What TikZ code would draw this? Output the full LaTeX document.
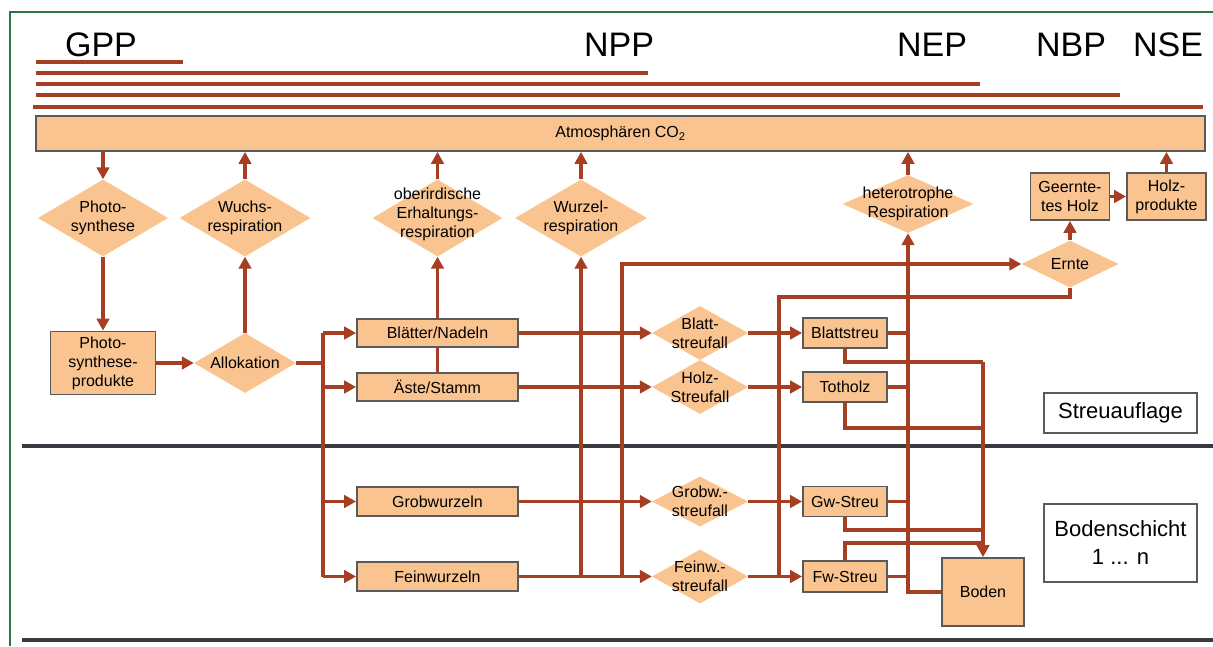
\documentclass[tikz,border=0pt]{standalone}
\usepackage{fontspec}
\setmainfont{Liberation Sans}
\usetikzlibrary{arrows.meta,shapes.geometric}
\definecolor{flow}{RGB}{166,62,36}
\definecolor{orfill}{RGB}{250,196,144}
\definecolor{boxline}{RGB}{90,90,90}
\definecolor{layer}{RGB}{55,60,66}
\definecolor{frame}{RGB}{40,120,70}

\begin{document}
\begin{tikzpicture}[x=1pt,y=-1pt,
  font=\fontsize{16}{19}\selectfont,
  box/.style={draw=boxline, line width=1.8pt, fill=orfill, inner sep=0pt, align=center},
  dia/.style={diamond, fill=orfill, inner sep=0pt},
  txt/.style={align=center, inner sep=0pt},
  conn/.style={draw=flow, line width=3.2pt},
  arr/.style={conn, -{Triangle[length=12pt,width=12.5pt]}},
  hline/.style={draw=flow, line width=4pt},
  sepline/.style={draw=layer, line width=4.5pt},
  layerbox/.style={draw=boxline, line width=1.6pt, fill=white, align=center,
    inner sep=0pt, minimum width=153pt, font=\fontsize{22}{28}\selectfont},
  head/.style={inner sep=0pt, font=\fontsize{34}{40}\selectfont}
]
\useasboundingbox (0,0) rectangle (1213,646);

% frame
\draw[frame, line width=1.5pt] (10,646) -- (10,12) -- (1213,12);

% balance terms
\node[head] (gpp) at (101,45) {GPP};
\node[head] (npp) at (619,45) {NPP};
\node[head] (nep) at (932,45) {NEP};
\node[head] (nbp) at (1071,45) {NBP};
\node[head] (nse) at (1168,45) {NSE};
\draw[hline] (36,62) -- (183,62);
\draw[hline] (36,73) -- (648,73);
\draw[hline] (36,84) -- (980,84);
\draw[hline] (36,95) -- (1120,95);
\draw[hline] (33,107) -- (1203,107);

% layer boundaries
\draw[sepline] (22,446) -- (1213,446);
\draw[sepline] (22,640) -- (1213,640);

% atmosphere
\node[box, minimum width=1169pt, minimum height=35pt] (atm) at (620.5,133.5) {Atmosphären CO\textsubscript{2}};

% upper diamonds
\node[dia, minimum width=130pt, minimum height=77pt] (ps) at (103,218) {};
\node[txt] (ps-t) at (ps) {Photo-\\synthese};
\node[dia, minimum width=131pt, minimum height=77pt] (wr) at (245,218) {};
\node[txt] (wr-t) at (wr) {Wuchs-\\respiration};
\node[dia, minimum width=130pt, minimum height=77pt] (oe) at (437.5,218) {};
\node[txt] (oe-t) at (437.5,214) {oberirdische\\Erhaltungs-\\respiration};
\node[dia, minimum width=132pt, minimum height=77pt] (wz) at (581,218) {};
\node[txt] (wz-t) at (wz) {Wurzel-\\respiration};
\node[dia, minimum width=131pt, minimum height=58pt] (hr) at (908,204) {};
\node[txt] (hr-t) at (hr) {heterotrophe\\Respiration};

% harvest
\node[box, minimum width=79pt, minimum height=47pt] (gh) at (1070,196.5) {Geernte-\\tes Holz};
\node[box, minimum width=79pt, minimum height=47pt] (hp) at (1166.5,196.5) {Holz-\\produkte};
\node[dia, minimum width=97pt, minimum height=47pt] (er) at (1070,264) {};
\node[txt] (er-t) at (er) {Ernte};

% assimilation and allocation
\node[box, minimum width=105pt, minimum height=63pt] (psp) at (103,363) {Photo-\\synthese-\\produkte};
\node[dia, minimum width=102pt, minimum height=60pt] (al) at (245,363) {};
\node[txt] (al-t) at (al) {Allokation};

% tree compartments
\node[box, minimum width=161pt, minimum height=28pt] (bn) at (437.5,333) {Blätter/Nadeln};
\node[box, minimum width=161pt, minimum height=28pt] (as) at (437.5,387) {Äste/Stamm};
\node[box, minimum width=161pt, minimum height=29pt] (gw) at (437.5,501.5) {Grobwurzeln};
\node[box, minimum width=161pt, minimum height=29pt] (fw) at (437.5,576.5) {Feinwurzeln};

% litterfall diamonds
\node[dia, minimum width=96pt, minimum height=54pt] (bsf) at (700,333) {};
\node[txt] (bsf-t) at (bsf) {Blatt-\\streufall};
\node[dia, minimum width=96pt, minimum height=54pt] (hsf) at (700,387) {};
\node[txt] (hsf-t) at (hsf) {Holz-\\Streufall};
\node[dia, minimum width=96pt, minimum height=50pt] (gsf) at (700,501.5) {};
\node[txt] (gsf-t) at (gsf) {Grobw.-\\streufall};
\node[dia, minimum width=96pt, minimum height=54pt] (fsf) at (700,576.5) {};
\node[txt] (fsf-t) at (fsf) {Feinw.-\\streufall};

% litter pools and soil
\node[box, minimum width=84pt, minimum height=30pt] (bst) at (845,333) {Blattstreu};
\node[box, minimum width=84pt, minimum height=30pt] (tot) at (845,387) {Totholz};
\node[box, minimum width=84pt, minimum height=30pt] (gst) at (845,501.5) {Gw-Streu};
\node[box, minimum width=84pt, minimum height=31pt] (fst) at (845,576.5) {Fw-Streu};
\node[box, minimum width=82pt, minimum height=68pt] (bo) at (983,592) {Boden};

% layer labels
\node[layerbox, minimum height=40pt] (sa) at (1120.5,413) {Streuauflage};
\node[layerbox, minimum height=78pt] (bs) at (1120.5,543) {Bodenschicht\\1 ... n};

% exchange with the atmosphere
\draw[arr] (atm.south -| ps.north) -- (ps.north);
\draw[arr] (wr.north) -- (wr.north |- atm.south);
\draw[arr] (oe.north) -- (oe.north |- atm.south);
\draw[arr] (wz.north) -- (wz.north |- atm.south);
\draw[arr] (hr.north) -- (hr.north |- atm.south);
\draw[arr] (hp.north) -- (hp.north |- atm.south);

% assimilation and allocation
\draw[arr] (ps.south) -- (psp.north);
\draw[arr] (psp.east) -- (al.west);
\draw[arr] (al.north) -- (wr.south);
\coordinate (ab) at (323,363);
\draw[conn] (al.east) -- (ab);
\draw[conn] (ab |- bn.west) -- (ab |- fw.west);
\foreach \n in {bn,as,gw,fw} \draw[arr] (ab |- \n.west) -- (\n.west);

% maintenance respiration
\draw[arr] (bn.north) -- (oe.south);
\draw[conn] (as.north) -- (bn.south);
\draw[arr] (fw.east -| wz.south) -- (wz.south);

% harvest
\coordinate (hv) at (622,576.5);
\draw[arr] (hv) |- (er.west);
\draw[arr] (er.north) -- (gh.south);
\draw[arr] (gh.east) -- (hp.west);

% litterfall
\draw[arr] (bn.east) -- (bsf.west);
\draw[arr] (as.east) -- (hsf.west);
\draw[arr] (gw.east) -- (gsf.west);
\draw[arr] (fw.east) -- (fsf.west);
\draw[arr] (bsf.east) -- (bst.west);
\draw[arr] (hsf.east) -- (tot.west);
\draw[arr] (gsf.east) -- (gst.west);
\draw[arr] (fsf.east) -- (fst.west);

% harvest residues into the litter
\coordinate (lb) at (779,297);
\draw[conn] (er.south) |- (lb) -- (lb |- fst.west);

% heterotrophic respiration
\draw[arr] (bo.west) -| (hr.south);
\foreach \n in {bst,tot,gst,fst} \draw[conn] (\n.east) -- (\n.east -| hr.south);

% transfer into the soil
\coordinate (j1) at (983,362);
\coordinate (j2) at (983,428);
\coordinate (j3) at (983,530);
\coordinate (j4) at (983,543);
\draw[conn] (bst.south) |- (j1);
\draw[conn] (tot.south) |- (j2);
\draw[conn] (gst.south) |- (j3);
\draw[conn] (fst.north) |- (j4);
\draw[arr] (j1) -- (bo.north);
\end{tikzpicture}
\end{document}
